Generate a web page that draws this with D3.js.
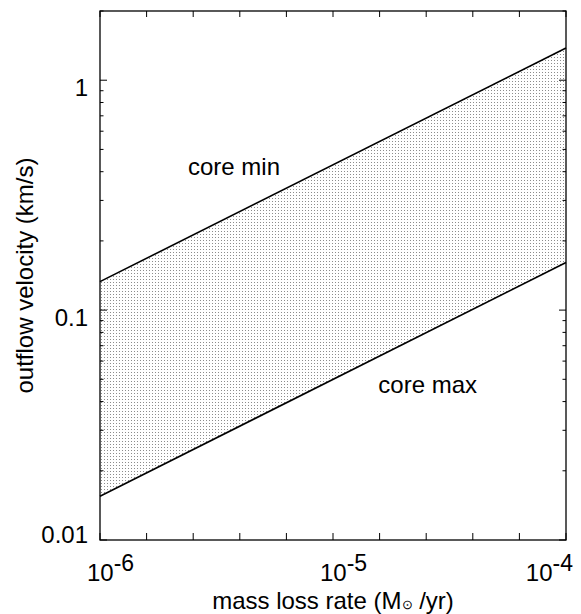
<!DOCTYPE html>
<html>
<head>
<meta charset="utf-8">
<script src="https://cdn.jsdelivr.net/npm/d3@7"></script>
<style>
  body { margin: 0; background: #fff; }
  svg text { font-family: "Liberation Sans", Arial, sans-serif; font-size: 24px; fill: #000; }
  .frame { fill: none; stroke: #000; stroke-width: 1.3; }
  .tick-mark { stroke: #000; stroke-width: 1; }
  .core-line { fill: none; stroke: #000; stroke-width: 1.6; }
</style>
</head>
<body>
<svg id="chart" width="581" height="614"></svg>
<script>
// values
var mdotRange = [1e-6, 1e-4];          // mass loss rate (Msun/yr), ends of the lines
var coreMin = [0.133, 1.38];           // outflow velocity, "core min" line
var coreMax = [0.0155, 0.161];         // outflow velocity, "core max" line
var xTickValues = [1e-6, 1e-5, 1e-4];
var xTickExps = ["-6", "-5", "-4"];
var yTickValues = [0.01, 0.1, 1];
var yTickLabels = ["0.01", "0.1", "1"];
var yDomain = [0.01, 2];

var margin = {left: 100, right: 15, top: 11, bottom: 74};
var W = 581, H = 614;
var width = W - margin.left - margin.right;
var height = H - margin.top - margin.bottom;

var svg = d3.select("#chart");

// stipple fill
var defs = svg.append("defs");
var pat = defs.append("pattern")
    .attr("id", "dots")
    .attr("patternUnits", "userSpaceOnUse")
    .attr("width", 3)
    .attr("height", 3);
pat.append("rect")
    .attr("x", 1).attr("y", 1)
    .attr("width", 1).attr("height", 1)
    .attr("fill", "#8c8c8c");

var g = svg.append("g")
    .attr("transform", "translate(" + margin.left + "," + margin.top + ")");

var x = d3.scaleLog().domain(mdotRange).range([0, width]);
var y = d3.scaleLog().domain(yDomain).range([height, 0]);

var band = mdotRange.map(function(m, i) {
  return {m: m, lo: coreMax[i], hi: coreMin[i]};
});

// shaded band between the two lines
var area = d3.area()
    .x(function(d) { return x(d.m); })
    .y0(function(d) { return y(d.lo); })
    .y1(function(d) { return y(d.hi); });

g.append("path")
    .datum(band)
    .attr("d", area)
    .attr("fill", "url(#dots)");

var line = d3.line()
    .x(function(d) { return x(d[0]); })
    .y(function(d) { return y(d[1]); });

g.append("path")
    .datum(mdotRange.map(function(m, i) { return [m, coreMin[i]]; }))
    .attr("class", "core-line")
    .attr("d", line);

g.append("path")
    .datum(mdotRange.map(function(m, i) { return [m, coreMax[i]]; }))
    .attr("class", "core-line")
    .attr("d", line);

// frame
g.append("rect")
    .attr("class", "frame")
    .attr("width", width)
    .attr("height", height);

// x ticks: 5 per decade, evenly spaced in log, on bottom and top
var lx0 = Math.log10(mdotRange[0]), lx1 = Math.log10(mdotRange[1]);
var xMinor = d3.range(0, Math.round((lx1 - lx0) * 5) + 1).map(function(k) {
  return Math.pow(10, lx0 + k * 0.2);
});
var ticks = g.append("g");
xMinor.forEach(function(v) {
  ticks.append("line").attr("class", "tick-mark")
    .attr("x1", x(v)).attr("x2", x(v))
    .attr("y1", height).attr("y2", height - 7);
  ticks.append("line").attr("class", "tick-mark")
    .attr("x1", x(v)).attr("x2", x(v))
    .attr("y1", 0).attr("y2", 6);
});

// y ticks: long at decades, short at 2..9
y.ticks().forEach(function(v) {
  var major = yTickValues.some(function(t) { return Math.abs(t - v) < v * 1e-6; });
  var len = major ? 7 : 3.5;
  ticks.append("line").attr("class", "tick-mark")
    .attr("x1", 0).attr("x2", len)
    .attr("y1", y(v)).attr("y2", y(v));
  ticks.append("line").attr("class", "tick-mark")
    .attr("x1", width).attr("x2", width - len)
    .attr("y1", y(v)).attr("y2", y(v));
});

// y tick labels
yTickValues.forEach(function(v, i) {
  var cy = Math.min(y(v) + 7, height - 5);
  g.append("text")
    .attr("x", -12)
    .attr("y", cy)
    .attr("dy", "0.35em")
    .attr("text-anchor", "end")
    .text(yTickLabels[i]);
});

// x tick labels 10^n, kept inside the window
xTickValues.forEach(function(v, i) {
  var t = g.append("text")
      .attr("x", x(v) - 13)
      .attr("y", height + 41);
  t.append("tspan").text("10");
  t.append("tspan").attr("dy", -10).attr("font-size", "23px").text(xTickExps[i]);
  var len = t.node().getComputedTextLength();
  var over = (margin.left + x(v) - 13 + len) - (W - 8);
  if (over > 0) t.attr("x", x(v) - 13 - over);
});

// axis titles
var xt = g.append("text")
    .attr("x", width / 2)
    .attr("y", height + 69)
    .attr("text-anchor", "middle");
xt.append("tspan").text("mass loss rate (M");
xt.append("tspan").attr("font-size", "13px").text("\u2299");
xt.append("tspan").text(" /yr)");

svg.append("text")
    .attr("transform", "translate(33," + (margin.top + height / 2) + ") rotate(-90)")
    .attr("text-anchor", "middle")
    .text("outflow velocity (km/s)");

// line labels
g.append("text")
    .attr("x", 188 - margin.left)
    .attr("y", 175 - margin.top)
    .text("core min");

g.append("text")
    .attr("x", 477 - margin.left)
    .attr("y", 393 - margin.top)
    .attr("text-anchor", "end")
    .text("core max");
</script>
</body>
</html>
